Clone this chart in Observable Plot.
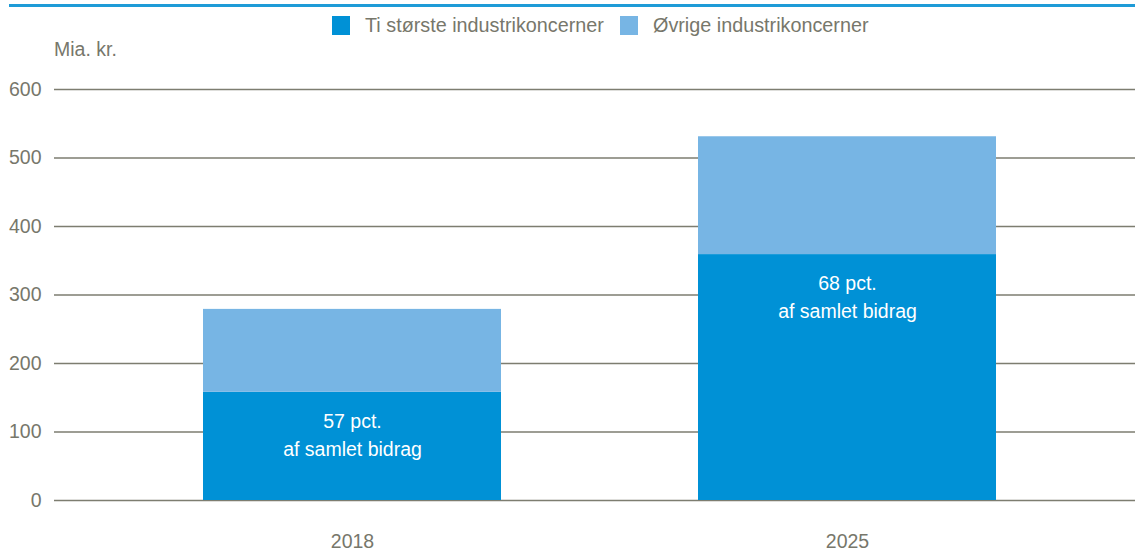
<!DOCTYPE html>
<html>
<head>
<meta charset="utf-8">
<script src="https://cdn.jsdelivr.net/npm/d3@7"></script>
<script src="https://cdn.jsdelivr.net/npm/@observablehq/plot@0.6"></script>
<style>
  html, body { margin: 0; padding: 0; background: #fff; overflow: hidden; }
  body { width: 1135px; height: 552px; position: relative; font-family: "Liberation Sans", Arial, sans-serif; color: #77776b; }
  #topline { position: absolute; left: 9px; top: 4px; width: 1126px; height: 3px; background: #1e9bd7; }
  #legend { position: absolute; top: 15px; left: 0; width: 1135px; height: 20px; font-size: 19.8px; line-height: 20px; }
  .item { position: absolute; top: 0; display: flex; align-items: center; white-space: nowrap; }
  .sw { width: 18px; height: 19px; margin-right: 15px; }
  #unit { position: absolute; left: 54px; top: 38px; font-size: 19.5px; }
  #chart { position: absolute; left: 0; top: 60px; }
</style>
</head>
<body>
<div id="topline"></div>
<div id="legend"></div>
<div id="unit">Mia. kr.</div>
<div id="chart"></div>
<script>
const years = ["2018", "2025"];
const seriesNames = ["Ti største industrikoncerner", "Øvrige industrikoncerner"];
const seriesColors = ["#0091d6", "#77b5e4"];
const topTen = [158, 359];
const others = [121, 172];
const shares = [57, 68];
const yTicks = [0, 100, 200, 300, 400, 500, 600];

const rows = [];
years.forEach((y, i) => {
  rows.push({year: y, series: seriesNames[0], value: topTen[i]});
  rows.push({year: y, series: seriesNames[1], value: others[i]});
});
const labels = years.map((y, i) => ({year: y, value: topTen[i], share: shares[i]}));

const legend = document.getElementById("legend");
const legendLeft = [332, 620];
seriesNames.forEach((n, i) => {
  const it = document.createElement("div");
  it.className = "item";
  it.style.left = legendLeft[i] + "px";
  const sw = document.createElement("div");
  sw.className = "sw";
  sw.style.background = seriesColors[i];
  const t = document.createElement("span");
  t.textContent = n;
  it.appendChild(sw); it.appendChild(t);
  legend.appendChild(it);
});

const textColor = "#77776b";
const plot = Plot.plot({
  width: 1135,
  height: 492,
  marginTop: 29,
  marginBottom: 52,
  marginLeft: 54,
  marginRight: 0,
  style: {fontFamily: '"Liberation Sans", Arial, sans-serif', fontSize: "19.5px", color: textColor, background: "white"},
  x: {type: "band", domain: years, range: [104.5, 1094.5], paddingInner: 0.398, paddingOuter: 0.199},
  y: {domain: [0, 600]},
  color: {domain: seriesNames, range: seriesColors},
  marks: [
    Plot.ruleY(yTicks, {stroke: "#7d7d70", strokeWidth: 1.4}),
    Plot.barY(rows, {x: "year", y: "value", fill: "series", order: seriesNames}),
    Plot.text(labels, {x: "year", y: "value", text: d => `${d.share} pct.\naf samlet bidrag`, lineAnchor: "top", dy: 16, lineHeight: 1.436, fill: "white", fontSize: 19.5}),
    Plot.axisY({ticks: yTicks, tickSize: 0, tickPadding: 13, label: null}),
    Plot.axisX({tickSize: 0, tickPadding: 34, label: null})
  ]
});
document.getElementById("chart").appendChild(plot);
</script>
</body>
</html>
